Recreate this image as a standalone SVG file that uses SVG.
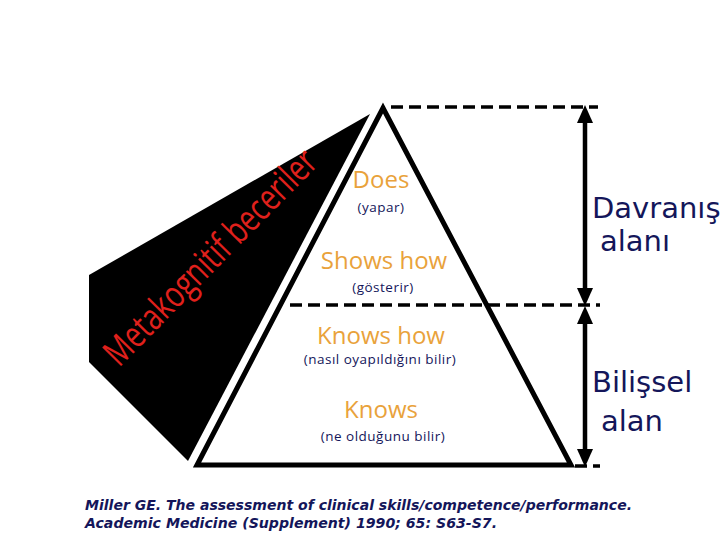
<svg xmlns="http://www.w3.org/2000/svg" width="720" height="540" viewBox="0 0 720 540">
<style>
.lvl{font-family:"Open Sans","Liberation Sans",sans-serif;font-size:24px;fill:#E9A23B;text-anchor:middle}
.sub{font-family:"Open Sans","Liberation Sans",sans-serif;font-size:13.5px;letter-spacing:0.5px;fill:#14165A;text-anchor:middle}
.dom{font-family:"DejaVu Sans","Liberation Sans",sans-serif;font-size:29px;fill:#14165A}
.cite{font-family:"DejaVu Sans","Liberation Sans",sans-serif;font-size:13.5px;font-weight:bold;font-style:italic;fill:#14165A}
.dash{stroke:#000;stroke-width:3.5;stroke-dasharray:12,6;fill:none}
.shaft{stroke:#000;stroke-width:4.5;fill:none}
</style>
<rect width="720" height="540" fill="#fff"/>
<g id="wedge">
<polygon points="370,114 89,275 89,362 188,461" fill="#000"/>
<text transform="translate(119,368) rotate(-45.5)" font-family="Open Sans, Liberation Sans, sans-serif" font-size="37" fill="#E0201C" textLength="286" lengthAdjust="spacingAndGlyphs">Metakognitif beceriler</text>
</g>
<g id="pyramid">
<polygon points="383,108 197,465 571,465" fill="none" stroke="#000" stroke-width="5" stroke-linejoin="miter"/>
</g>
<g id="connectors">
<line class="dash" x1="391" y1="107" x2="598" y2="107"/>
<line class="dash" x1="290" y1="305" x2="600" y2="305"/>
<line class="dash" x1="575" y1="466" x2="600" y2="466" stroke-dasharray="7,6"/>
<line class="shaft" x1="585" y1="122" x2="585" y2="290"/>
<polygon points="585,105 577,123 593,123"/>
<polygon points="585,306 577,288 593,288"/>
<line class="shaft" x1="585" y1="322" x2="585" y2="452"/>
<polygon points="585,306 577,324 593,324"/>
<polygon points="585,467 577,449 593,449"/>
</g>
<g id="level-does">
<text class="lvl" x="381" y="188">Does</text>
<text class="sub" x="381" y="212">(yapar)</text>
</g>
<g id="level-shows">
<text class="lvl" x="384" y="269">Shows how</text>
<text class="sub" x="383" y="292">(gösterir)</text>
</g>
<g id="level-knowshow">
<text class="lvl" x="381" y="344">Knows how</text>
<text class="sub" x="380" y="364">(nasıl oyapıldığını  bilir)</text>
</g>
<g id="level-knows">
<text class="lvl" x="381" y="418">Knows</text>
<text class="sub" x="383" y="441">(ne olduğunu bilir)</text>
</g>
<g id="domain-behavior">
<text class="dom" x="592" y="218">Davranış</text>
<text class="dom" x="600" y="251">alanı</text>
</g>
<g id="domain-cognitive">
<text class="dom" x="592" y="392">Bilişsel</text>
<text class="dom" x="601" y="431">alan</text>
</g>
<g id="citation">
<text class="cite" x="85" y="510" textLength="547" lengthAdjust="spacingAndGlyphs">Miller GE. The assessment of clinical skills/competence/performance.</text>
<text class="cite" x="85" y="528" textLength="412" lengthAdjust="spacingAndGlyphs">Academic Medicine (Supplement) 1990; 65: S63-S7.</text>
</g>
</svg>
